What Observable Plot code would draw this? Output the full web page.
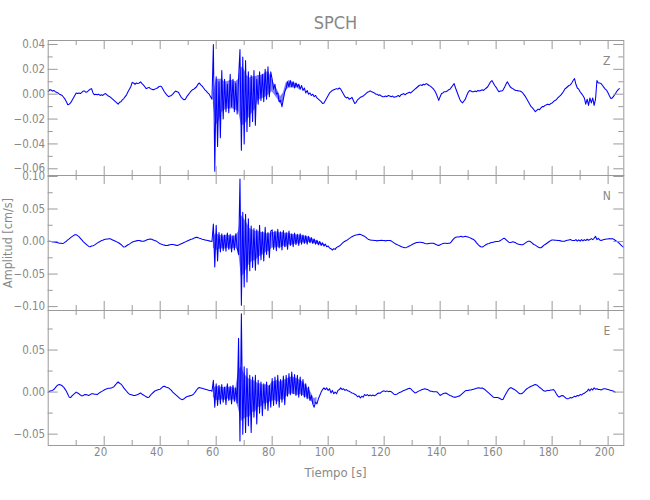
<!DOCTYPE html>
<html><head><meta charset="utf-8">
<script src="https://cdn.jsdelivr.net/npm/d3@7"></script>
<script src="https://cdn.jsdelivr.net/npm/@observablehq/plot@0.6"></script>
<style>
body{margin:0;background:#fff;}
#fig{position:relative;width:650px;height:500px;background:#fff;font-family:"Liberation Sans Narrow","DejaVu Sans Condensed","Liberation Sans",sans-serif;color:#888;overflow:hidden;}
#fig svg{position:absolute;left:0;overflow:visible;}
.lab{position:absolute;white-space:nowrap;transform:translate(-50%,-50%);}
</style></head><body>
<div id="fig">
  <div class="lab" style="left:335.5px;top:21.5px;font-size:18px;">SPCH</div>
  <div class="lab" style="left:335.5px;top:472px;font-size:13px;">Tiempo [s]</div>
  <div class="lab" style="left:7px;top:243px;font-size:12.5px;transform:translate(-50%,-50%) rotate(-90deg);">Amplitud [cm/s]</div>
</div>
<script>
// sampling interval of the traces (s)
const dt = 0.5;
// amplitudes in units of 0.001 cm/s, one value every 0.5 s starting at t = 0
const zTrace = [
2,3.5,3.5,2.5,3,2,1.5,1,0,-0.5,-1,-2.5,-4,-6,-8.5,-8,-7,-5,-3,-1,
1,0.5,1,0.5,1.5,2.5,2.5,1.5,2,3,4,4.5,1,-0.5,0,-0.5,0,-1,-0.5,-1,
0,0.5,-0.5,-1.5,-2,-3,-4,-5,-6,-7,-8,-6.5,-6,-4.5,-3.5,-2,-0.5,2,4,6,
9.5,9,8,9,8.5,9,10,8.5,7.5,6,4.5,5,5.5,4.5,4,3.5,4,4.5,5,6,
6.5,6,4,2,0.5,-1,-2,-1.5,-1,0,1.5,2.5,2,1.5,-0.5,-2.5,-3.5,-4.5,-4,-2,
-0.5,1,2.5,3.5,4,5,6,8,9,7.5,6.5,5,3.5,2.5,1,0,-2,-4,40,-62,
14,-42,10,-35,19,-20,12,-14,8,-15,16,-10,12,-14,9,-16,13,36,-45,30,
-40,27,-30,18,-26,15,-22,19,-25,12,-8,18,-5,16,-6,20,-4,22,-2,18,
12,4,8,0,1,-6,-5,-10,-4,2,5,10,6,11,6,10,5,9,6,8,
4,7,3,5,1,3,0,1,-1,0,-2,-1,-3,-4,-5,-6,-7.5,-7,-5,-3,
-1,1,2,3,3.5,4,4.5,4,5,4,2,0,-2,-3,-2.5,-4,-3.5,-2.5,-5,-7.5,
-6.5,-4.5,-3.5,-2.5,-2,-1.5,-0.5,0.5,1.5,2,2.7,2,1.5,1,0,0,-1,-0.5,-1.5,-2,
-2,-1.5,-2,-1,-1.5,-2,-1.5,-2.5,-2,-2,-1,-2,-0.5,0,0.5,-0.5,0.5,1,1.5,1,
2,3,4,5,6,7,7.5,7,8,7.5,8.5,8,7,6.5,5.5,4.5,3,1,-2,-5,
-2,0.5,1,2,2,2.5,3.5,4,5.5,7,8.5,5,2,-1,-4,-6,-7,-5.5,-4,-1,
1.5,3,2.5,2,2,2.5,2,3,2.5,3,3.5,3,4,5,6,8,10,11,9,7,
5.5,3.5,2,2.5,2.5,3.5,5.5,8,10,8,6,5,4.5,3.5,3,3,2.5,2.5,2,1,
-0.5,-2,-4,-6,-8,-10,-11,-12.5,-14,-13,-12,-12.5,-11,-10,-10,-9,-8.5,-8,-8.5,-7.5,
-7,-6,-5,-4.5,-3,-2,-1,0.5,2,4,5,6,7,7.5,9,11,12.5,8,5,4,
2,0.5,-1,-3,-8,-4,-9,-3,-7,-3,-9,-4,11,9,9,8.5,7,5.5,4,3,
1,-1.5,-3.5,-3,-1.5,0,2,3.5,4.5
];
const nTrace = [
0.5,0.5,0,-0.5,-0.5,-1,-1.5,-2,-2.5,-2.5,-3,-2.5,-1,0.5,2.5,4,6,7.5,9,10.5,
10.5,9,7.5,5,2.5,0,-2,-4,-6,-7.5,-8,-7,-6.5,-5.5,-4,-2.5,-1,0,1.5,2,
3,3.5,4,4,4.5,3.5,2.5,1.5,0.5,-0.5,-1.5,-3,-4.5,-6.5,-8.5,-8,-6.5,-5,-4,-2.5,
-1,0,0.5,1,1.5,1.5,1,0.5,0.5,1,2,3,3.5,4,3.5,2.5,1.5,1,-0.5,-2,
-3.5,-4,-5,-5.5,-6,-6,-5.5,-5,-4.5,-4.5,-5,-5.5,-6,-5.5,-4.5,-3.5,-2.5,-1.5,-0.5,0.5,
1.5,2.5,3.5,4,5,6,6.5,6,5,4.5,3.5,3,2.5,2,1.5,1,0.5,0,27,-39,
25,-30,14,-16,12,-14,10,-15,13,-12,11,-16,9,-13,12,-10,-20,96,-98,45,
-70,42,-62,35,-45,24,-40,20,-44,18,-35,25,-28,15,-30,22,-20,14,-25,16,
18,-12,16,-14,19,-10,15,-13,17,-8,14,-12,16,-6,12,-8,13,-5,11,-6,
12,-4,10,-3,9,-4,8,-2,6,-3,4,-4,2,-5,0,-6,-2,-7,-4,-8,
-7,-10,-11,-13,-11,-12,-9,-8,-7,-5,-3,-1,0.5,1.5,3,4.5,6,7.5,8.5,9.5,
10,10.5,11,11,10,9,8,6.5,4.5,3,2.5,2,2,1.5,1.5,1,1.5,1.5,2,1.5,
1.5,1,1.5,1.5,1.5,1,-0.5,-2,-3.5,-4.5,-5.5,-6.5,-7.5,-8.5,-9,-9.5,-9,-8,-7,-6,
-4.5,-3.5,-2.5,-1.5,-1.5,-1,-1,-1.5,-2,-3,-3.5,-3.5,-3,-2.5,-2.5,-2.5,-3.5,-4.5,-5.5,-6,
-5,-4,-3,-2.5,-2.5,-3,-2.5,-2.5,-0.5,2.5,5,6.5,7,7,7.5,8,7,7.5,8,7.5,
7,6,5,4,3,1,-2,-4.5,-6.5,-8,-8.5,-7.5,-6,-4.5,-3.5,-3,-2,-1.5,-1,-0.5,
0,0,0.5,1.5,3,4.5,5,3,1,-1,-1.5,-1,-0.5,-1,-2,-3.5,-4,-4.5,-5,-5,
-3.5,-2,-0.5,0.5,0.5,-1,-3,-4.5,-5.5,-7,-8.5,-9.5,-9.5,-8,-6,-4.5,-3,-1.5,0,1.5,
2.5,2.5,2,2,1.5,1.5,1,0.5,0.5,0.5,1.5,2,2.5,3,2,1.5,1.5,3,0.5,2.5,
0.5,3,1,3,1.5,3.5,2,3,4.5,3,5,8,3,5,2.5,1.5,2.5,3,3.5,4,
4,4.5,4,4.5,3.5,2,0.5,-1,-3,-5,-7,-8.5
];
const eTrace = [
0,1,1.5,2,3,5,7,8.5,9,8.5,7.5,6,3.5,1,-2.5,-6,-6.5,-4.5,-3,-1.5,
0,-1,-2,-3.5,-4.5,-4,-3,-3,-3.5,-4,-3,-2,-2,-2.5,-2.5,-3,-1.5,-0.5,0.5,1.5,
2.5,3.5,4,4.5,4.5,5,5.5,6.5,8.5,10.5,12,10.5,9.5,7.5,5,3,1,-1,-2.5,-3,
-3.5,-4,-4,-3.5,-3,-2,-1,-2.5,-3.5,-4.5,-5.5,-6.5,-6,-4,-2,-0.5,1,2,2.5,3,
3.5,5,6.5,7,6,5.5,5,3.5,2,0,-1.5,-3,-4.5,-6,-7.5,-8.5,-9,-8,-6.5,-5.5,
-5,-4.5,-4,-3.5,-2,0,2.5,4.5,5.5,5,4.5,4,3.5,3,2.5,2,2,1,14,-18,
10,-16,8,-14,9,-12,6,-15,10,-10,7,-14,8,-11,5,-13,64,-58,93,-50,
30,-48,28,-40,20,-48,18,-30,20,-38,14,-25,12,-28,10,-20,12,-22,8,-18,
16,-16,18,-14,20,-18,15,-12,19,-15,20,-5,22,-3,24,-2,21,-4,20,-6,
18,-4,15,-6,10,-8,6,-10,-4,-14,-18,-12,-14,-8,-4,0,3,5,3,5,
2,4,-1,2,-2,0,-2,2,3,5,3,4,2,3,1.5,1,0,-1,-1.5,-2.5,
-3.5,-5.5,-4.5,-7,-5,-6,-3,-4,-3,-4.5,-3.5,-4.5,-3.5,-4.5,-3.5,-2,-1,-1.5,0,1,
1.5,0.5,1.5,0.5,1,0.5,-1,-2.5,-3,-2.5,-1.5,-0.5,0,1,2,2.5,3,4,4.5,4,
2,0.5,-1,-0.5,0.5,1.5,2,3,3.5,4,3.5,3,2,1,1,0.5,0.5,0.5,0,-2,
-4,-3,-2,-1.5,-1,-2,-3,-4,-4.5,-5.5,-6,-6,-5.5,-5,-4.5,-3,-1.5,0,1.5,2,
2,2.5,2.5,3,3.5,4,4.5,5,5,4.5,5,4,3,1.5,0,-1.5,-3,-4.5,-6,-6.5,
-6.5,-6.5,-7,-8,-9,-8.5,-5,-2,1,3.5,5,5,4,3,2,0.5,-1,-2,-2,-1,
0.5,2.5,4,5,6,7,7.5,8.5,9,8.5,7,5.5,4.5,3,1.5,1,1.5,2,2,2.5,
2.5,3,1,-2,-4.5,-6,-5,-4,-4.5,-6,-7.5,-8,-7.5,-6.5,-7,-6,-5,-5.5,-4,-4.5,
-3,-3.5,-2,-1.5,0,1,3.5,1.5,4,2.5,5,3.5,4,3,3,2.5,3.5,4,4,3.5,
3,2.5,2,1.5,1,0
];
// dense core band of the strong-motion part (0.001 cm/s), one pair every 1 s from t = 59 s
const coreStart = 59;
const zCoreLo = [-8,-25,-22,-15,-13,-12,-12,-12,-13,-14,-25,-25,-22,-18,-15,-12,-5,-4,-3,-2,0,2,-1,-4,-8,-6,3,5,5,5,5,3];
const zCoreHi = [0,12,12,12,10,10,11,11,10,12,22,20,15,13,14,14,15,15,16,18,17,12,7,3,-2,1,9,11,10,9,8,7];
const nCoreLo = [-10,-14,-12,-11,-12,-10,-12,-11,-10,-15,-55,-50,-42,-34,-30,-30,-25,-22,-20,-16,-15,-10,-10,-9,-10,-7,-9,-5,-6,-4,-4,-3,-2,-3,-1,-2,-3,-4,-5,-6,-7];
const nCoreHi = [8,12,10,9,9,10,9,8,9,15,40,35,28,20,18,16,16,14,14,12,12,14,14,15,13,14,12,13,11,11,10,10,9,8,7,5,3,1,-1,-3,-5];
const eCoreLo = [-6,-10,-10,-9,-10,-8,-10,-9,-10,-20,-35,-32,-30,-30,-24,-24,-18,-18,-14,-14,-12,-11,-10,-12,-9,-10,-6,-3,-2,-3,-4,-3,-4,-6,-8,-11,-15,-12];
const eCoreHi = [4,7,6,6,5,7,5,6,4,25,30,22,18,15,14,13,10,10,8,9,7,12,13,14,12,14,15,17,18,17,16,14,12,8,4,-1,-8,-6];

const components = ["Z", "N", "E"];
const timeDomain = [0, 205.6];
const xMajor = [20, 40, 60, 80, 100, 120, 140, 160, 180, 200];
const xMajorLabels = ["20", "40", "60", "80", "100", "120", "140", "160", "180", "200"];
const xMinor = [10, 30, 50, 70, 90, 110, 130, 150, 170, 190];
const zDomain = [-0.0654, 0.0432];
const zMajor = [-0.06, -0.04, -0.02, 0, 0.02, 0.04];
const zLabels = ["\u22120.06", "\u22120.04", "\u22120.02", "0.00", "0.02", "0.04"];
const zMinor = [-0.05, -0.03, -0.01, 0.01, 0.03];
const nDomain = [-0.106, 0.1015];
const nMajor = [-0.10, -0.05, 0, 0.05, 0.10];
const nLabels = ["\u22120.10", "\u22120.05", "0.00", "0.05", "0.10"];
const nMinor = [-0.075, -0.025, 0.025, 0.075];
const eDomain = [-0.0635, 0.097];
const eMajor = [-0.05, 0, 0.05];
const eLabels = ["\u22120.05", "0.00", "0.05"];
const eMinor = [-0.025, 0.025, 0.075];

const axisColor = "#9a9a9a";
const textColor = "#888";
const traceColor = "#0000ff";
const ML = 47.7, MR = 26.7, W = 650;
const fig = document.getElementById("fig");

function panel(cfg) {
  const data = cfg.values.map((v, i) => ({t: i * dt, v: v / 1000}));
  const core = cfg.coreLo.map((lo, i) => ({t: coreStart + i, lo: lo / 1000, hi: cfg.coreHi[i] / 1000}));
  const ph = cfg.height - cfg.mt - cfg.mb;
  const pw = W - ML - MR;
  const marks = [
    Plot.areaY(core, {x: "t", y1: "lo", y2: "hi", fill: traceColor, fillOpacity: 0.5}),
    Plot.lineY(data, {x: "t", y: "v", stroke: traceColor, strokeWidth: 1.05}),
    Plot.frame({stroke: axisColor}),
    Plot.tickX(xMajor, {x: d => d, stroke: axisColor, insetBottom: ph - 9}),
    Plot.tickX(xMinor, {x: d => d, stroke: axisColor, insetBottom: ph - 5}),
    Plot.tickX(xMajor, {x: d => d, stroke: axisColor, insetTop: ph - 9}),
    Plot.tickX(xMinor, {x: d => d, stroke: axisColor, insetTop: ph - 5}),
    Plot.tickY(cfg.major, {y: d => d, stroke: axisColor, insetRight: pw - 10}),
    Plot.tickY(cfg.minor, {y: d => d, stroke: axisColor, insetRight: pw - 5}),
    Plot.tickY(cfg.major, {y: d => d, stroke: axisColor, insetLeft: pw - 10}),
    Plot.tickY(cfg.minor, {y: d => d, stroke: axisColor, insetLeft: pw - 5}),
    Plot.text(cfg.major, {y: d => d, text: (d, i) => cfg.labels[i], frameAnchor: "left", dx: -3, textAnchor: "end", lineAnchor: "middle", fill: textColor, fontSize: 11.5}),
    Plot.text([cfg.letter], {text: d => d, frameAnchor: "top-right", dx: -17, dy: 21, textAnchor: "middle", lineAnchor: "middle", fill: textColor, fontSize: 12})
  ];
  if (cfg.xLabels) {
    marks.push(Plot.text(xMajor, {x: d => d, text: (d, i) => xMajorLabels[i], frameAnchor: "bottom", dy: 7, dx: -3.5, textAnchor: "middle", lineAnchor: "middle", fill: textColor, fontSize: 11.5}));
  }
  const svg = Plot.plot({
    width: W, height: cfg.height,
    marginLeft: ML, marginRight: MR, marginTop: cfg.mt, marginBottom: cfg.mb,
    x: {domain: timeDomain, axis: null},
    y: {domain: cfg.domain, axis: null},
    style: {background: "none", overflow: "visible", fontFamily: '"Liberation Sans Narrow","DejaVu Sans Condensed","Liberation Sans",sans-serif'},
    marks
  });
  svg.style.top = cfg.top + "px";
  fig.appendChild(svg);
}

panel({values: zTrace, coreLo: zCoreLo, coreHi: zCoreHi, domain: zDomain, major: zMajor, labels: zLabels, minor: zMinor, letter: components[0], top: 0, height: 175, mt: 40, mb: 0});
panel({values: nTrace, coreLo: nCoreLo, coreHi: nCoreHi, domain: nDomain, major: nMajor, labels: nLabels, minor: nMinor, letter: components[1], top: 175, height: 135, mt: 0, mb: 0});
panel({values: eTrace, coreLo: eCoreLo, coreHi: eCoreHi, domain: eDomain, major: eMajor, labels: eLabels, minor: eMinor, letter: components[2], top: 310, height: 190, mt: 0, mb: 55, xLabels: true});
</script>
</body></html>
